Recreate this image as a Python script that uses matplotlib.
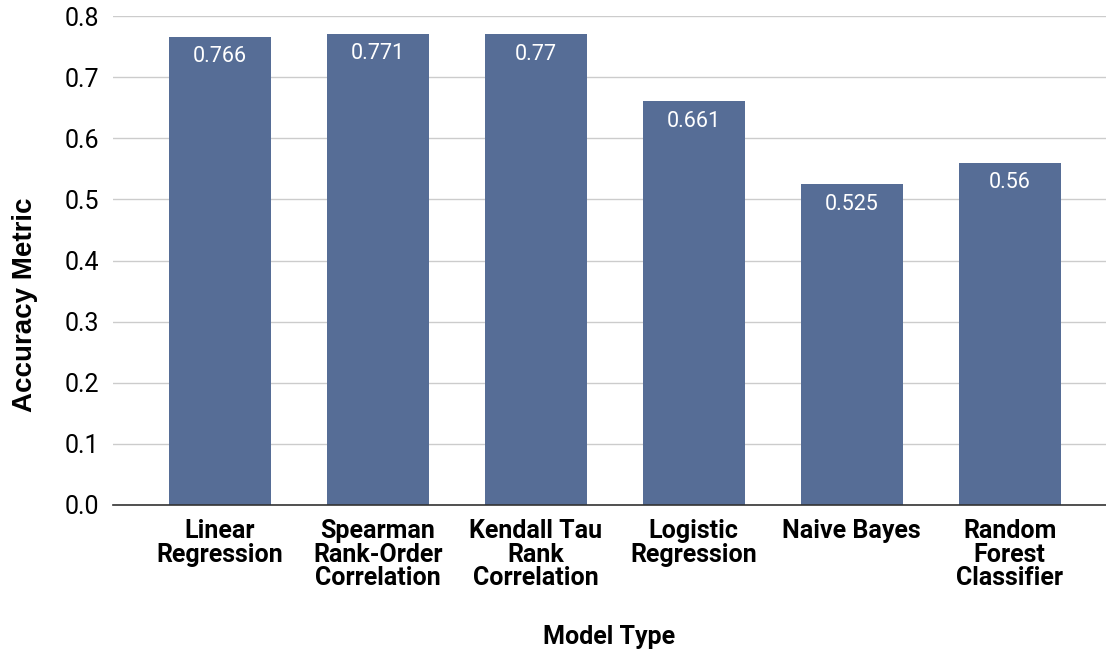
import matplotlib.pyplot as plt
import numpy as np

plt.rcParams['font.family'] = ['Roboto', 'DejaVu Sans']

models = ['Linear\nRegression', 'Spearman\nRank-Order\nCorrelation', 'Kendall Tau\nRank\nCorrelation',
          'Logistic\nRegression', 'Naive Bayes', 'Random\nForest\nClassifier']
accuracy = [0.766, 0.771, 0.77, 0.661, 0.525, 0.56]
y_ticks = [0.0, 0.1, 0.2, 0.3, 0.4, 0.5, 0.6, 0.7, 0.8]

fig = plt.figure(figsize=(11.06, 6.5), dpi=100)
ax = fig.add_axes([113/1106, 145/650, 993/1106, 489/650])

x = np.arange(len(models))
bars = ax.bar(x, accuracy, width=0.646, color='#566d96', zorder=3)

for b, v in zip(bars, accuracy):
    ax.annotate(f'{v:g}', (b.get_x() + b.get_width()/2, v), xytext=(0, -14.5),
                textcoords='offset points', ha='center', va='center',
                color='white', fontsize=15.5, zorder=4)

ax.set_ylim(0, 0.8)
ax.set_xlim(-0.677, 5.61)
ax.set_yticks(y_ticks)
ax.set_yticklabels([f'{t:.1f}' for t in y_ticks], fontsize=18)
ax.set_xticks(x)
ax.set_xticklabels(models, fontsize=18, fontweight='bold', linespacing=0.98)
ax.tick_params(axis='both', length=0)
ax.tick_params(axis='y', pad=10)
ax.tick_params(axis='x', pad=10)

ax.grid(axis='y', color='#cccccc', linewidth=1, zorder=0)
for s in ['top', 'right', 'left']:
    ax.spines[s].set_visible(False)
ax.spines['bottom'].set_color('#333333')
ax.spines['bottom'].set_linewidth(1.2)
ax.spines['bottom'].set_zorder(5)

# axis titles, placed below/left of the tick labels
ax.set_ylabel('Accuracy Metric', fontsize=20, fontweight='bold',
              family=['Liberation Sans', 'DejaVu Sans'], va='center', ha='center')
ax.yaxis.set_label_coords(-0.0886, 0.409)
ax.set_xlabel('Model Type', fontsize=18, fontweight='bold', va='center', ha='center')
ax.xaxis.set_label_coords(0.5, -0.27)

fig.savefig('out.png', dpi=100)
